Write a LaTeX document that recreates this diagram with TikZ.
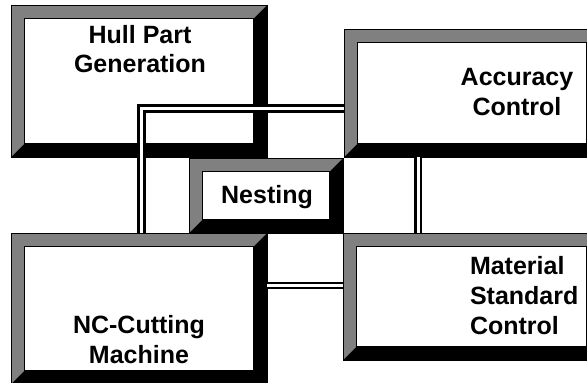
\documentclass[tikz,border=0pt]{standalone}
\usepackage{fontspec}
\setmainfont{Liberation Sans}
\definecolor{bevgray}{gray}{0.5}
\tikzset{
  bevel/.style={draw=black, line width=1pt, fill=black, inner sep=0pt, outer sep=0pt, anchor=north west,
    path picture={
      \path (path picture bounding box.north west) coordinate (bnw)
            (path picture bounding box.south east) coordinate (bse)
            (path picture bounding box.north east) coordinate (bne)
            (path picture bounding box.south west) coordinate (bsw);
      \fill[bevgray] (bnw) -- (bne) -- ([shift={(-13.5pt,-13.5pt)}]bne) -- ([shift={(13.5pt,-13.5pt)}]bnw)
            -- ([shift={(13.5pt,13.5pt)}]bsw) -- (bsw) -- cycle;
      \filldraw[fill=white, draw=black, line width=0.8pt] ([shift={(13.5pt,-13.5pt)}]bnw) rectangle ([shift={(-13.5pt,13.5pt)}]bse);
    }},
  lbl/.style={inner sep=0pt, outer sep=0pt, align=center, font=\bfseries\fontsize{25}{30}\selectfont},
  pipe/.style={draw=black, line width=2.6pt, double=white, double distance=3pt, line join=miter},
  thinpipe/.style={draw=black, line width=2.2pt, double=white, double distance=2.4pt}
}
\begin{document}
\begin{tikzpicture}[x=1pt, y=-1pt]
\useasboundingbox (0,0) rectangle (587,383);
\clip (0,0) rectangle (587,383);
\fill[white] (0,0) rectangle (587,383);
% boxes
\node[bevel, minimum width=256pt, minimum height=152pt] (hull) at (11,5) {};
\node[bevel, minimum width=256pt, minimum height=128pt] (acc) at (344,29) {};
\node[bevel, minimum width=154pt, minimum height=75pt] (nest) at (189,158) {};
\node[bevel, minimum width=256pt, minimum height=151pt] (nc) at (11,233) {};
\node[bevel, minimum width=257pt, minimum height=127pt] (mat) at (343,233) {};
% labels
\node[lbl, anchor=north, font=\bfseries\fontsize{25}{29}\selectfont] (thull) at (140,25) {Hull Part\\Generation};
\node[lbl, anchor=north] (tacc) at (517,68) {Accuracy\\Control};
\node[lbl, anchor=north] (tnest) at (267,185) {Nesting};
\node[lbl, anchor=north] (tnc) at (139,315) {NC-Cutting\\Machine};
\node[lbl, anchor=north west, align=left] (tmat) at (470,256) {Material\\Standard\\Control};
% connectors
\coordinate (c1) at (141.5,108.5);
\coordinate (c2) at (418,195);
\coordinate (c3) at (305,285.5);
\draw[pipe] (c1 |- nc.north) -- (c1) -- (c1 -| acc.west);
\draw[pipe] (c2 |- acc.south) -- (c2 |- mat.north);
\draw[thinpipe] (c3 -| nc.east) -- (c3 -| mat.west);
\end{tikzpicture}
\end{document}
